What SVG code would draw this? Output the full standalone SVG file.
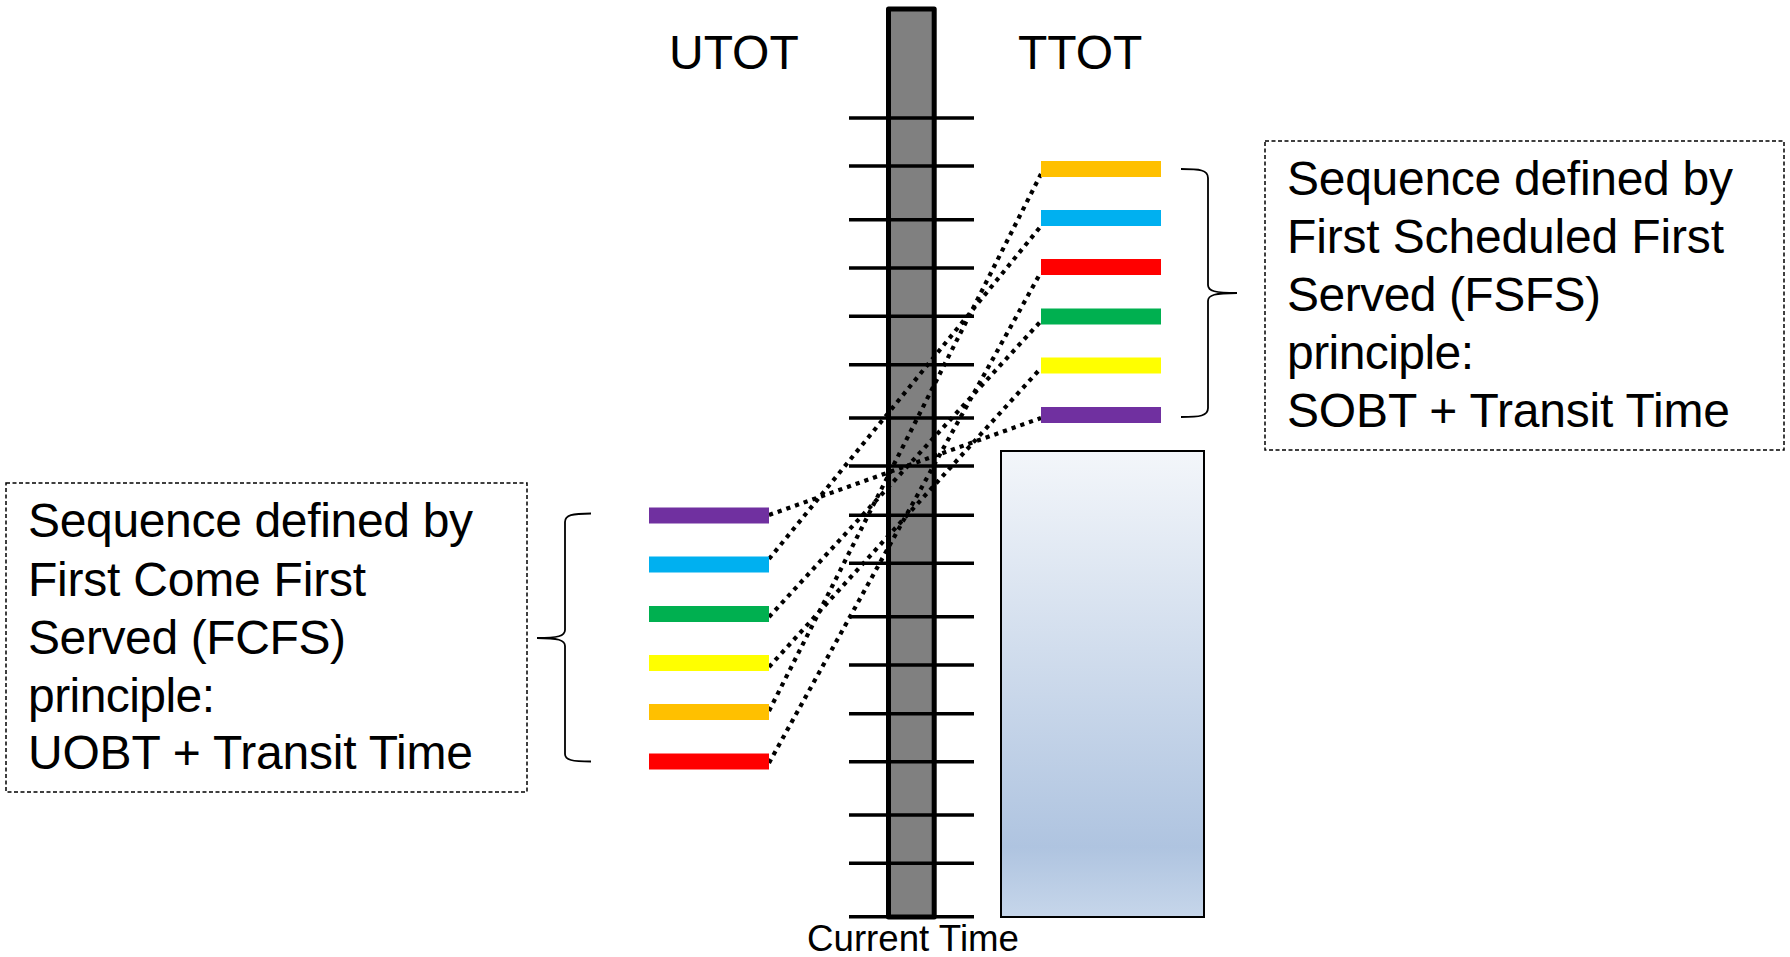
<svg xmlns="http://www.w3.org/2000/svg" width="1790" height="957" viewBox="0 0 1790 957">
  <defs>
    <linearGradient id="fillBlue" x1="0" y1="0" x2="0" y2="1">
      <stop offset="0" stop-color="#f3f6fa"/>
      <stop offset="0.85" stop-color="#afc4e0"/>
      <stop offset="1" stop-color="#c6d6ea"/>
    </linearGradient>
  </defs>
  <style>
    .lbl { font-family: "Liberation Sans", Arial, sans-serif; fill: #000; }
    .big { font-size: 48px; }
    .small { font-size: 36px; }
    .tick { stroke: #000; stroke-width: 3.5; }
    .link { fill: none; stroke: #000; stroke-width: 4.2; stroke-dasharray: 4.2 5; }
    .note { fill: #fff; stroke: #000; stroke-width: 1.5; stroke-dasharray: 4 2.5; }
    .brace { fill: none; stroke: #000; stroke-width: 1.8; }
    .slot { stroke: none; }
  </style>
  <rect width="1790" height="957" fill="#fff"/>

  <!-- column headers -->
  <g id="header-utot"><text class="lbl big" x="669" y="69">UTOT</text></g>
  <g id="header-ttot"><text class="lbl big" x="1018" y="69">TTOT</text></g>

  <!-- time axis -->
  <g id="time-axis">
    <rect x="888.5" y="9" width="45.7" height="908" fill="#808080" stroke="#000" stroke-width="5" stroke-linejoin="round"/>
    <g class="tick">
      <line x1="849" y1="118" x2="974" y2="118"/>
      <line x1="849" y1="166" x2="974" y2="166"/>
      <line x1="849" y1="219.7" x2="974" y2="219.7"/>
      <line x1="849" y1="268" x2="974" y2="268"/>
      <line x1="849" y1="316.3" x2="974" y2="316.3"/>
      <line x1="849" y1="364.7" x2="974" y2="364.7"/>
      <line x1="849" y1="418" x2="974" y2="418"/>
      <line x1="849" y1="466" x2="974" y2="466"/>
      <line x1="849" y1="515.3" x2="974" y2="515.3"/>
      <line x1="849" y1="563.3" x2="974" y2="563.3"/>
      <line x1="849" y1="616.7" x2="974" y2="616.7"/>
      <line x1="849" y1="665" x2="974" y2="665"/>
      <line x1="849" y1="713.7" x2="974" y2="713.7"/>
      <line x1="849" y1="761.7" x2="974" y2="761.7"/>
      <line x1="849" y1="815" x2="974" y2="815"/>
      <line x1="849" y1="863.3" x2="974" y2="863.3"/>
      <line x1="849" y1="916.7" x2="974" y2="916.7"/>
    </g>
    <text class="lbl small" x="807" y="951" textLength="212" lengthAdjust="spacingAndGlyphs">Current Time</text>
  </g>

  <!-- future window -->
  <g id="future-window">
    <rect x="1001" y="451" width="203" height="466" fill="url(#fillBlue)" stroke="#000" stroke-width="2"/>
  </g>

  <!-- links between each flight's UTOT and TTOT -->
  <g id="connectors">
    <line class="link" x1="769" y1="515" x2="1041" y2="418"/>
    <line class="link" x1="769" y1="559" x2="1041" y2="226"/>
    <line class="link" x1="769" y1="617" x2="1041" y2="321"/>
    <line class="link" x1="769" y1="667" x2="1041" y2="368"/>
    <line class="link" x1="769" y1="711" x2="1041" y2="174"/>
    <line class="link" x1="769" y1="763" x2="1041" y2="272"/>
  </g>

  <!-- UTOT slots (FCFS order) -->
  <g id="utot-slots" class="slot">
    <rect x="649" y="507.5" width="120" height="16" fill="#7030a0"/>
    <rect x="649" y="556.5" width="120" height="16" fill="#00b0f0"/>
    <rect x="649" y="606" width="120" height="16" fill="#00b050"/>
    <rect x="649" y="655" width="120" height="16" fill="#ffff00"/>
    <rect x="649" y="704" width="120" height="16" fill="#ffc000"/>
    <rect x="649" y="753.5" width="120" height="16" fill="#ff0000"/>
  </g>

  <!-- TTOT slots (FSFS order) -->
  <g id="ttot-slots" class="slot">
    <rect x="1041" y="161" width="120" height="16" fill="#ffc000"/>
    <rect x="1041" y="210" width="120" height="16" fill="#00b0f0"/>
    <rect x="1041" y="259" width="120" height="16" fill="#ff0000"/>
    <rect x="1041" y="308.5" width="120" height="16" fill="#00b050"/>
    <rect x="1041" y="357.5" width="120" height="16" fill="#ffff00"/>
    <rect x="1041" y="407" width="120" height="16" fill="#7030a0"/>
  </g>

  <!-- braces -->
  <g id="brace-left">
    <path class="brace" d="M591 513.5 C572 513.5 565 515 565 522 L565 630 C565 636 558 638 537 638 C558 638 565 640 565 646 L565 754 C565 760 572 761.5 591 761.5"/>
  </g>
  <g id="brace-right">
    <path class="brace" d="M1181 169 C1200 169 1208 170 1208 178 L1208 285 C1208 291 1215 293 1237 293 C1215 293 1208 295 1208 301 L1208 408 C1208 416 1200 417 1181 417"/>
  </g>

  <!-- explanatory notes -->
  <g id="note-fcfs">
    <rect class="note" x="6" y="483" width="521" height="309"/>
    <text class="lbl big" lengthAdjust="spacingAndGlyphs">
      <tspan x="28" y="537" textLength="445">Sequence defined by</tspan>
      <tspan x="28" y="595.5" textLength="338">First Come First</tspan>
      <tspan x="28" y="653.5" textLength="318">Served (FCFS)</tspan>
      <tspan x="28" y="711.5" textLength="187">principle:</tspan>
      <tspan x="28" y="769" textLength="445">UOBT + Transit Time</tspan>
    </text>
  </g>
  <g id="note-fsfs">
    <rect class="note" x="1265" y="141" width="519" height="309"/>
    <text class="lbl big" lengthAdjust="spacingAndGlyphs">
      <tspan x="1287" y="195" textLength="446">Sequence defined by</tspan>
      <tspan x="1287" y="253" textLength="437">First Scheduled First</tspan>
      <tspan x="1287" y="311" textLength="314">Served (FSFS)</tspan>
      <tspan x="1287" y="369" textLength="187">principle:</tspan>
      <tspan x="1287" y="427" textLength="443">SOBT + Transit Time</tspan>
    </text>
  </g>
</svg>
